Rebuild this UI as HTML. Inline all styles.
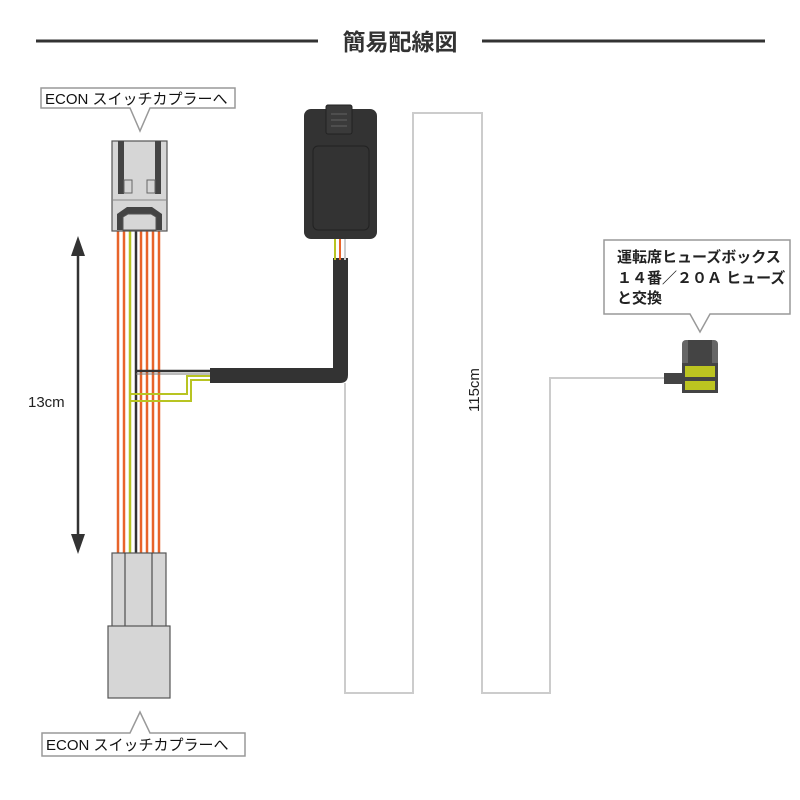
<!DOCTYPE html>
<html><head><meta charset="utf-8"><style>
body{margin:0;background:#fff;}
svg{display:block;}
text{font-family:"Liberation Sans","Noto Sans CJK JP",sans-serif;}
</style></head><body>
<svg width="800" height="800" viewBox="0 0 800 800" xmlns="http://www.w3.org/2000/svg">
<rect width="800" height="800" fill="#fff"/>
<line x1="36" y1="41" x2="318" y2="41" stroke="#333" stroke-width="3"/>
<line x1="482" y1="41" x2="765" y2="41" stroke="#333" stroke-width="3"/>
<text x="400" y="50" font-size="23" font-weight="bold" text-anchor="middle" fill="#333">簡易配線図</text>

<path d="M41 88 H235 V108 H150 L140 131 L130 108 H41 Z" fill="#fff" stroke="#999" stroke-width="1.5"/>
<text x="45" y="104" font-size="15" fill="#111">ECON スイッチカプラーへ</text>
<path d="M42 733 H130 L140 712 L150 733 H245 V756 H42 Z" fill="#fff" stroke="#999" stroke-width="1.5"/>
<text x="46" y="750" font-size="15" fill="#111">ECON スイッチカプラーへ</text>
<path d="M604 240 H790 V314 H710 L700 332 L690 314 H604 Z" fill="#fff" stroke="#999" stroke-width="1.5"/>
<text x="617" y="262" font-size="15" font-weight="bold" fill="#222">運転席ヒューズボックス</text>
<text x="617" y="283" font-size="15" font-weight="bold" fill="#222">１４番／２０Ａ ヒューズ</text>
<text x="617" y="303" font-size="15" font-weight="bold" fill="#222">と交換</text>

<polyline points="345,383 345,693 413,693 413,113 482,113 482,693 550,693 550,378 666,378" fill="none" stroke="#ccc" stroke-width="2"/>

<g stroke-width="2.5">
<line x1="118" y1="228" x2="118" y2="555" stroke="#e8642a"/>
<line x1="124" y1="228" x2="124" y2="555" stroke="#e8642a"/>
<line x1="130" y1="228" x2="130" y2="555" stroke="#b8c422"/>
<line x1="136" y1="228" x2="136" y2="555" stroke="#333"/>
<line x1="141" y1="228" x2="141" y2="555" stroke="#e8642a"/>
<line x1="147" y1="228" x2="147" y2="555" stroke="#e8642a"/>
<line x1="153" y1="228" x2="153" y2="555" stroke="#e8642a"/>
<line x1="159" y1="228" x2="159" y2="555" stroke="#e8642a"/>
</g>
<polyline points="136,371 212,371" fill="none" stroke="#333" stroke-width="2.5"/>
<polyline points="136,374 212,374" fill="none" stroke="#777" stroke-width="1"/>
<polyline points="130,394 187,394 187,376 212,376" fill="none" stroke="#b8c422" stroke-width="2"/>
<polyline points="130,401 191,401 191,380 212,380" fill="none" stroke="#b8c422" stroke-width="2"/>

<path d="M210 368 H333 V258 H348 V375 Q348 383 340 383 H210 Z" fill="#333"/>
<line x1="335" y1="238" x2="335" y2="260" stroke="#b8c422" stroke-width="2"/>
<line x1="340" y1="238" x2="340" y2="260" stroke="#e8642a" stroke-width="2"/>
<line x1="345" y1="238" x2="345" y2="260" stroke="#ccc" stroke-width="2"/>
<rect x="304" y="109" width="73" height="130" rx="7" fill="#333"/>
<rect x="326" y="105" width="26" height="29" rx="2" fill="#3a3a3a" stroke="#222" stroke-width="1"/>
<line x1="331" y1="114" x2="347" y2="114" stroke="#555" stroke-width="1.5"/>
<line x1="331" y1="120" x2="347" y2="120" stroke="#555" stroke-width="1.5"/>
<line x1="331" y1="126" x2="347" y2="126" stroke="#555" stroke-width="1.5"/>
<rect x="313" y="146" width="56" height="84" rx="5" fill="#333" stroke="#222" stroke-width="1"/>

<rect x="112" y="141" width="55" height="90" fill="#d6d6d6" stroke="#555" stroke-width="1.2"/>
<rect x="118" y="141" width="6" height="53" fill="#444"/>
<rect x="155" y="141" width="6" height="53" fill="#444"/>
<rect x="124" y="180" width="8" height="13" fill="none" stroke="#666"/>
<rect x="147" y="180" width="8" height="13" fill="none" stroke="#666"/>
<line x1="112" y1="200" x2="167" y2="200" stroke="#888"/>
<path d="M117 230 V214 L127 207 H152 L162 214 V230 Z" fill="#444"/>
<path d="M123 230 V217 L128 214 H151 L156 217 V230 Z" fill="#d6d6d6" stroke="#555"/>

<rect x="112" y="553" width="54" height="74" fill="#d6d6d6" stroke="#555" stroke-width="1.2"/>
<line x1="125" y1="553" x2="125" y2="626" stroke="#333"/>
<line x1="152" y1="553" x2="152" y2="626" stroke="#333"/>
<rect x="108" y="626" width="62" height="72" fill="#d6d6d6" stroke="#555" stroke-width="1.2"/>

<line x1="78" y1="245" x2="78" y2="546" stroke="#333" stroke-width="2.5"/>
<path d="M78 236 L71 256 L85 256 Z" fill="#333"/>
<path d="M78 554 L71 534 L85 534 Z" fill="#333"/>
<text x="28" y="407" font-size="15" fill="#222">13cm</text>
<text transform="translate(479,412) rotate(-90)" font-size="15" fill="#222">115cm</text>

<rect x="664" y="373" width="20" height="11" fill="#444"/>
<rect x="682" y="340" width="36" height="53" rx="4" fill="#666"/>
<rect x="688" y="340" width="24" height="24" fill="#444"/>
<rect x="682" y="363" width="36" height="30" fill="#444"/>
<rect x="685" y="366" width="30" height="11" fill="#bcc420"/>
<rect x="685" y="381" width="30" height="9" fill="#bcc420"/>
</svg>
</body></html>
